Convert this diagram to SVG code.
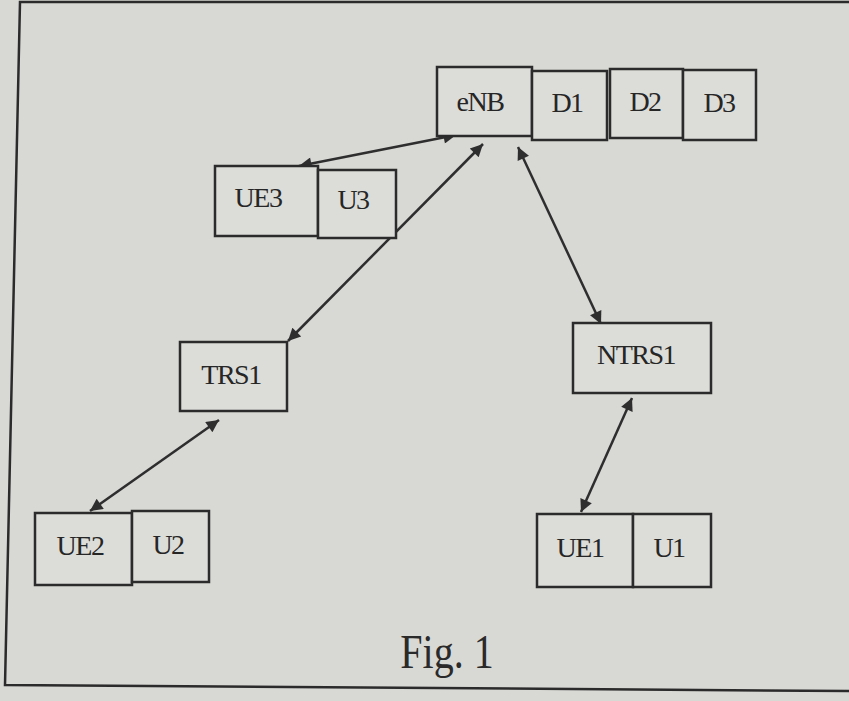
<svg xmlns="http://www.w3.org/2000/svg" width="849" height="701" viewBox="0 0 849 701">
<defs>
<style>
.bg{fill:#d8d9d5}
.box{fill:#dcddd9;stroke:#2b2b2b;stroke-width:2.5}
.lbl{font-family:"Liberation Serif","Times New Roman",serif;font-size:28px;letter-spacing:-1.5px;fill:#262626;text-anchor:middle}
.cap{font-family:"Liberation Serif","Times New Roman",serif;font-size:40px;fill:#2a2a2a;text-anchor:middle}
.frame{fill:none;stroke:#2b2b2b;stroke-width:2.5}
.conn line{stroke:#2e2e2e;stroke-width:2.5;marker-start:url(#ah);marker-end:url(#ah)}
</style>
<marker id="ah" viewBox="0 0 10 10" refX="10" refY="5" markerWidth="6" markerHeight="5" markerUnits="strokeWidth" orient="auto-start-reverse">
<path d="M0,0 L10,5 L0,10 z" fill="#2e2e2e"/>
</marker>
</defs>
<rect class="bg" x="0" y="0" width="849" height="701"/>
<path class="frame" d="M849,2 L20,2 L5,685 L849,691"/>

<g class="conn" id="connectors">
<line x1="299" y1="166" x2="456" y2="135"/>
<line x1="288" y1="341" x2="483" y2="144"/>
<line x1="518" y1="147" x2="601" y2="324"/>
<line x1="219" y1="420" x2="90" y2="511"/>
<line x1="632" y1="398" x2="581" y2="512"/>
</g>

<g id="eNB"><rect class="box" x="437" y="67" width="95" height="69"/><text class="lbl" x="480" y="111">eNB</text></g>
<g id="D1"><rect class="box" x="532" y="71" width="75" height="69"/><text class="lbl" x="567" y="112">D1</text></g>
<g id="D2"><rect class="box" x="610" y="69" width="73" height="69"/><text class="lbl" x="645" y="111">D2</text></g>
<g id="D3"><rect class="box" x="683" y="70" width="73" height="70"/><text class="lbl" x="719" y="112">D3</text></g>

<g id="UE3"><rect class="box" x="215" y="166" width="103" height="70"/><text class="lbl" x="258" y="207">UE3</text></g>
<g id="U3"><rect class="box" x="318" y="170" width="78" height="68"/><text class="lbl" x="353" y="209">U3</text></g>

<g id="TRS1"><rect class="box" x="180" y="342" width="107" height="69"/><text class="lbl" x="231" y="384">TRS1</text></g>
<g id="NTRS1"><rect class="box" x="573" y="323" width="138" height="70"/><text class="lbl" x="636" y="364">NTRS1</text></g>

<g id="UE2"><rect class="box" x="35" y="513" width="97" height="72"/><text class="lbl" x="80" y="555">UE2</text></g>
<g id="U2"><rect class="box" x="132" y="511" width="77" height="71"/><text class="lbl" x="168" y="554">U2</text></g>

<g id="UE1"><rect class="box" x="537" y="514" width="96" height="73"/><text class="lbl" x="580" y="557">UE1</text></g>
<g id="U1"><rect class="box" x="633" y="514" width="78" height="73"/><text class="lbl" x="669" y="557">U1</text></g>

<text class="cap" transform="translate(447,668) scale(1,1.2)">Fig. 1</text>
</svg>
